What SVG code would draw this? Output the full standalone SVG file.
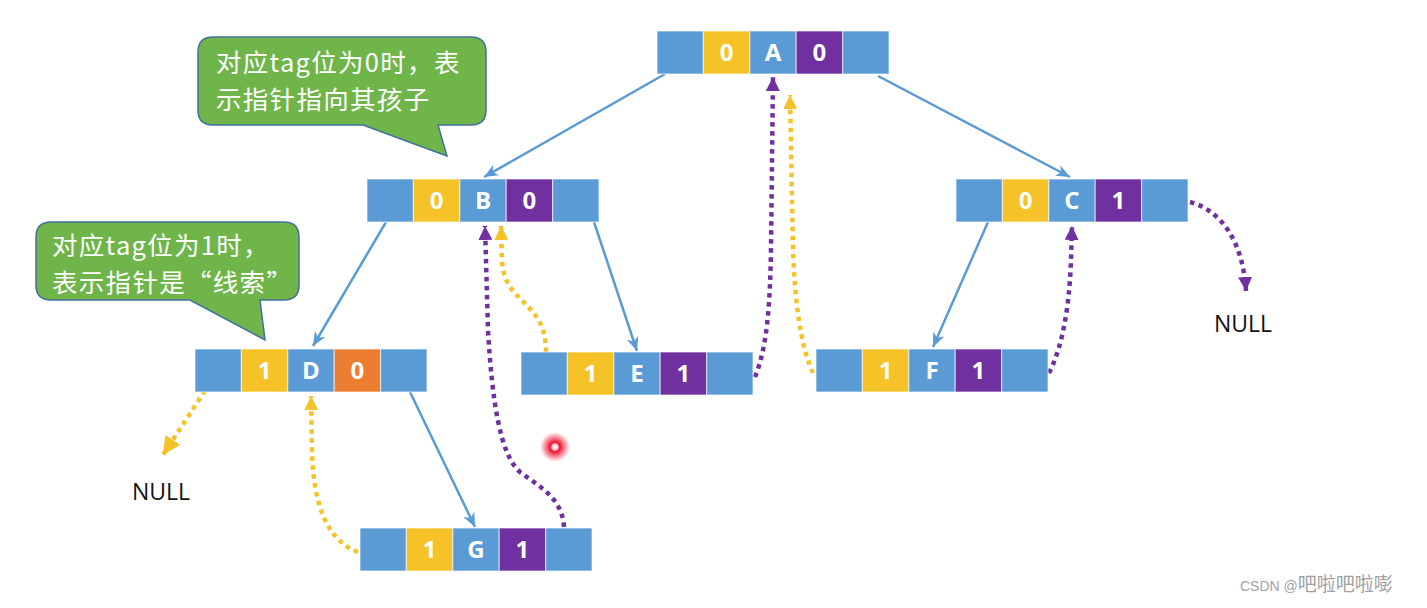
<svg xmlns="http://www.w3.org/2000/svg" width="1427" height="608" viewBox="0 0 1427 608">
<style>
.c{stroke:#ffffff;stroke-opacity:0.55;stroke-width:1.2}
.b{fill:#5B9BD5}
.y{fill:#F5C228}
.p{fill:#7030A0}
.o{fill:#ED7D31}
.t{font-family:"Open Sans","Noto Sans",sans-serif;font-weight:bold;font-size:24px;fill:#ffffff;text-anchor:middle}
.e{fill:none;stroke:#5B9BD5;stroke-width:2.5}
.dp{fill:none;stroke:#7030A0;stroke-width:4.5;stroke-dasharray:4.5 4.5}
.dy{fill:none;stroke:#F5C228;stroke-width:4.5;stroke-dasharray:4.5 4.5}
.call{fill:#6FB54A;stroke:#41719C;stroke-width:1.5}
.ct{font-family:"Noto Sans CJK SC","Noto Sans",sans-serif;font-size:25.5px;letter-spacing:1.3px;fill:#ffffff}
.nl{font-family:"Open Sans","Noto Sans",sans-serif;font-size:23px;fill:#111111}
</style>
<defs>
<marker id="ab" markerUnits="userSpaceOnUse" markerWidth="14" markerHeight="12" refX="14" refY="6" orient="auto"><path d="M0,0 L14,6 L0,12 L4,6 Z" fill="#5B9BD5"/></marker>
<marker id="ap" markerUnits="userSpaceOnUse" markerWidth="14" markerHeight="14" refX="14" refY="7" orient="auto"><path d="M0,0 L14,7 L0,14 Z" fill="#7030A0"/></marker>
<marker id="ay" markerUnits="userSpaceOnUse" markerWidth="14" markerHeight="14" refX="14" refY="7" orient="auto"><path d="M0,0 L14,7 L0,14 Z" fill="#F5C228"/></marker>
<marker id="ayl" markerUnits="userSpaceOnUse" markerWidth="18" markerHeight="18" refX="18" refY="9" orient="auto"><path d="M0,0 L18,9 L0,18 Z" fill="#F5C228"/></marker>
<radialGradient id="glow">
<stop offset="0" stop-color="#ffffff"/>
<stop offset="0.18" stop-color="#ffd0d6"/>
<stop offset="0.32" stop-color="#f0102c"/>
<stop offset="0.6" stop-color="#f0102c" stop-opacity="0.55"/>
<stop offset="1" stop-color="#f0102c" stop-opacity="0"/>
</radialGradient>
</defs>
<rect x="0" y="0" width="1427" height="608" fill="#ffffff"/>

<g id="connectors">
<path class="e" d="M665,74 L484,177" marker-end="url(#ab)"/>
<path class="e" d="M878,76 L1070,177" marker-end="url(#ab)"/>
<path class="e" d="M386,222 L313,346" marker-end="url(#ab)"/>
<path class="e" d="M594,222 L637,351" marker-end="url(#ab)"/>
<path class="e" d="M988,222 L933,347" marker-end="url(#ab)"/>
<path class="e" d="M410,392 L475,527" marker-end="url(#ab)"/>
<path class="dy" d="M210,383 L163,455" marker-end="url(#ayl)"/>
<path class="dy" d="M358,552 C325,540 313,500 312,450 L311,396" marker-end="url(#ay)"/>
<path class="dp" d="M564,527 C562,500 545,490 520,472 C500,455 492,400 488,330 L485,226" marker-end="url(#ap)"/>
<path class="dy" d="M546,352 C546,300 505,305 502,262 L501,226" marker-end="url(#ay)"/>
<path class="dp" d="M755,377 C768,345 770,300 771,250 L773,77" marker-end="url(#ap)"/>
<path class="dy" d="M813,373 C800,345 795,300 793,250 L790,95" marker-end="url(#ay)"/>
<path class="dp" d="M1049,373 C1066,340 1070,290 1071,260 L1072,226" marker-end="url(#ap)"/>
<path class="dp" d="M1190,202 C1220,210 1243,240 1246,291" marker-end="url(#ap)"/>
</g>

<g id="nodeA" transform="translate(657,31)">
<rect class="c b" x="0" y="0" width="46.4" height="43"/>
<rect class="c y" x="46.4" y="0" width="46.4" height="43"/>
<rect class="c b" x="92.8" y="0" width="46.4" height="43"/>
<rect class="c p" x="139.2" y="0" width="46.4" height="43"/>
<rect class="c b" x="185.6" y="0" width="46.4" height="43"/>
<text class="t" x="69.6" y="30">0</text><text class="t" x="116" y="30">A</text><text class="t" x="162.4" y="30">0</text>
</g>
<g id="nodeB" transform="translate(367,179)">
<rect class="c b" x="0" y="0" width="46.4" height="43"/>
<rect class="c y" x="46.4" y="0" width="46.4" height="43"/>
<rect class="c b" x="92.8" y="0" width="46.4" height="43"/>
<rect class="c p" x="139.2" y="0" width="46.4" height="43"/>
<rect class="c b" x="185.6" y="0" width="46.4" height="43"/>
<text class="t" x="69.6" y="30">0</text><text class="t" x="116" y="30">B</text><text class="t" x="162.4" y="30">0</text>
</g>
<g id="nodeC" transform="translate(956,179)">
<rect class="c b" x="0" y="0" width="46.4" height="43"/>
<rect class="c y" x="46.4" y="0" width="46.4" height="43"/>
<rect class="c b" x="92.8" y="0" width="46.4" height="43"/>
<rect class="c p" x="139.2" y="0" width="46.4" height="43"/>
<rect class="c b" x="185.6" y="0" width="46.4" height="43"/>
<text class="t" x="69.6" y="30">0</text><text class="t" x="116" y="30">C</text><text class="t" x="162.4" y="30">1</text>
</g>
<g id="nodeD" transform="translate(195,349)">
<rect class="c b" x="0" y="0" width="46.4" height="43"/>
<rect class="c y" x="46.4" y="0" width="46.4" height="43"/>
<rect class="c b" x="92.8" y="0" width="46.4" height="43"/>
<rect class="c o" x="139.2" y="0" width="46.4" height="43"/>
<rect class="c b" x="185.6" y="0" width="46.4" height="43"/>
<text class="t" x="69.6" y="30">1</text><text class="t" x="116" y="30">D</text><text class="t" x="162.4" y="30">0</text>
</g>
<g id="nodeE" transform="translate(521,352)">
<rect class="c b" x="0" y="0" width="46.4" height="43"/>
<rect class="c y" x="46.4" y="0" width="46.4" height="43"/>
<rect class="c b" x="92.8" y="0" width="46.4" height="43"/>
<rect class="c p" x="139.2" y="0" width="46.4" height="43"/>
<rect class="c b" x="185.6" y="0" width="46.4" height="43"/>
<text class="t" x="69.6" y="30">1</text><text class="t" x="116" y="30">E</text><text class="t" x="162.4" y="30">1</text>
</g>
<g id="nodeF" transform="translate(816,349)">
<rect class="c b" x="0" y="0" width="46.4" height="43"/>
<rect class="c y" x="46.4" y="0" width="46.4" height="43"/>
<rect class="c b" x="92.8" y="0" width="46.4" height="43"/>
<rect class="c p" x="139.2" y="0" width="46.4" height="43"/>
<rect class="c b" x="185.6" y="0" width="46.4" height="43"/>
<text class="t" x="69.6" y="30">1</text><text class="t" x="116" y="30">F</text><text class="t" x="162.4" y="30">1</text>
</g>
<g id="nodeG" transform="translate(360,528)">
<rect class="c b" x="0" y="0" width="46.4" height="43"/>
<rect class="c y" x="46.4" y="0" width="46.4" height="43"/>
<rect class="c b" x="92.8" y="0" width="46.4" height="43"/>
<rect class="c p" x="139.2" y="0" width="46.4" height="43"/>
<rect class="c b" x="185.6" y="0" width="46.4" height="43"/>
<text class="t" x="69.6" y="30">1</text><text class="t" x="116" y="30">G</text><text class="t" x="162.4" y="30">1</text>
</g>

<g id="callout0">
<path class="call" d="M213,37 H471 Q486,37 486,52 V110 Q486,125 471,125 H438 L447,156 L363,125 H213 Q198,125 198,110 V52 Q198,37 213,37 Z"/>
<text class="ct" x="216" y="72">对应tag位为0时，表</text>
<text class="ct" x="216" y="109">示指针指向其孩子</text>
</g>
<g id="callout1">
<path class="call" d="M51,222 H284 Q299,222 299,237 V285 Q299,300 284,300 H260 L265,340 L190,300 H51 Q36,300 36,285 V237 Q36,222 51,222 Z"/>
<text class="ct" x="52" y="255">对应tag位为1时，</text>
<text class="ct" x="52" y="292">表示指针是“线索”</text>
</g>

<g id="null1"><text class="nl" x="132" y="500">NULL</text></g>
<g id="null2"><text class="nl" x="1214" y="332">NULL</text></g>

<circle cx="555" cy="447" r="15" fill="url(#glow)"/>

<text x="1240" y="591" fill="#a0a0a0" font-family="Liberation Sans,Noto Sans CJK SC,sans-serif"><tspan font-size="14">CSDN @</tspan><tspan font-size="19" font-family="Noto Sans CJK SC,sans-serif">吧啦吧啦嘭</tspan></text>
</svg>
